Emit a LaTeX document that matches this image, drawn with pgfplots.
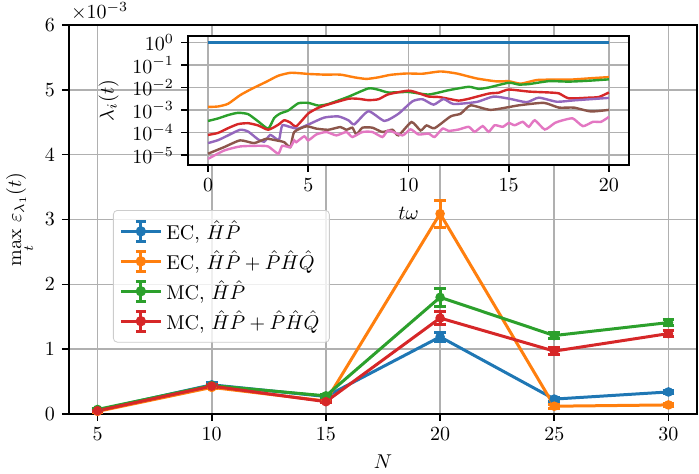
\documentclass[border=0pt]{standalone}
\usepackage{pgfplots}
\pgfplotsset{compat=1.18}
\definecolor{C0}{HTML}{1F77B4}
\definecolor{C1}{HTML}{FF7F0E}
\definecolor{C2}{HTML}{2CA02C}
\definecolor{C3}{HTML}{D62728}
\definecolor{C4}{HTML}{9467BD}
\definecolor{C5}{HTML}{8C564B}
\definecolor{C6}{HTML}{E377C2}
\definecolor{gridgray}{HTML}{B0B0B0}
\definecolor{leggray}{HTML}{CCCCCC}
\pgfplotsset{errlegend/.style={legend image code/.code={
    \draw[##1, line width=1.5pt] (0pt,0pt) -- (20pt,0pt);
    \draw[##1, line width=1.5pt] (10pt,-5pt) -- (10pt,5pt) (7.5pt,-5pt) -- (12.5pt,-5pt) (7.5pt,5pt) -- (12.5pt,5pt);
    \fill[##1] (10pt,0pt) circle (1.8pt);
  }}}
\begin{document}
\begin{tikzpicture}
\begin{axis}[
  at={(0,0)}, anchor=south west,
  width=314pt, height=194.5pt, scale only axis,
  xmin=3.75, xmax=31.25, ymin=0, ymax=6,
  xtick={5,10,...,30}, ytick={0,1,...,6},
  grid=major, major grid style={color=gridgray, line width=0.8pt},
  axis line style={line width=0.8pt},
  tick align=outside, tick pos=left, major tick length=3.5pt,
  tick style={line width=0.8pt, black},
  xlabel={$N$}, ylabel={$\max\limits_{t}\,\varepsilon_{\lambda_1}(t)$},
  ylabel style={yshift=-2pt},
  error bars/error bar style={line width=1.5pt},
  error bars/error mark=|,
  error bars/error mark options={line width=1.5pt, mark size=2.9pt},
  legend cell align=left,
  legend style={at={(0.070,0.5244)}, anchor=north west, draw=leggray,
    fill=white, fill opacity=0.8, draw opacity=1, text opacity=1,
    rounded corners=2pt, row sep=0pt, inner sep=3pt},
  errlegend,
]
\addplot[C0, line width=1.5pt, mark=*, mark size=1.6pt, error bars/.cd, y dir=both, y explicit]
  coordinates {(5,0.06)+-(0,0.01) (10,0.45)+-(0,0.03) (15,0.27)+-(0,0.02) (20,1.19)+-(0,0.07) (25,0.23)+-(0,0.03) (30,0.34)+-(0,0.03)};
\addlegendentry{EC, $\hat{H}\hat{P}$}
\addplot[C1, line width=1.5pt, mark=*, mark size=1.6pt, error bars/.cd, y dir=both, y explicit]
  coordinates {(5,0.04)+-(0,0.01) (10,0.41)+-(0,0.02) (15,0.20)+-(0,0.02) (20,3.09)+-(0,0.21) (25,0.12)+-(0,0.03) (30,0.14)+-(0,0.02)};
\addlegendentry{EC, $\hat{H}\hat{P}+\hat{P}\hat{H}\hat{Q}$}
\addplot[C2, line width=1.5pt, mark=*, mark size=1.6pt, error bars/.cd, y dir=both, y explicit]
  coordinates {(5,0.07)+-(0,0.01) (10,0.44)+-(0,0.02) (15,0.28)+-(0,0.02) (20,1.80)+-(0,0.14) (25,1.21)+-(0,0.05) (30,1.41)+-(0,0.05)};
\addlegendentry{MC, $\hat{H}\hat{P}$}
\addplot[C3, line width=1.5pt, mark=*, mark size=1.6pt, error bars/.cd, y dir=both, y explicit]
  coordinates {(5,0.05)+-(0,0.01) (10,0.43)+-(0,0.02) (15,0.19)+-(0,0.02) (20,1.48)+-(0,0.10) (25,0.97)+-(0,0.05) (30,1.24)+-(0,0.05)};
\addlegendentry{MC, $\hat{H}\hat{P}+\hat{P}\hat{H}\hat{Q}$}
\end{axis}
\node[anchor=base west, inner sep=0pt] at (0.8pt,197.5pt) {$\times10^{-3}$};
\begin{axis}[
  at={(59.5pt,124.5pt)}, anchor=south west,
  width=220.5pt, height=64.5pt, scale only axis,
  xmin=-1, xmax=21, ymin=-5.43, ymax=0.28,
  xtick={0,5,...,20}, ytick={-5,-4,...,0},
  yticklabels={$10^{-5}$,$10^{-4}$,$10^{-3}$,$10^{-2}$,$10^{-1}$,$10^{0}$},
  grid=major, major grid style={color=gridgray, line width=0.8pt},
  axis background/.style={fill=white},
  axis line style={line width=0.8pt},
  tick align=outside, tick pos=left, major tick length=3.5pt,
  tick style={line width=0.8pt, black},
  xlabel={$t\omega$}, ylabel={$\lambda_i(t)$},
  xlabel style={yshift=-1pt},
  every axis plot/.append style={line width=1.2pt, no marks, smooth, tension=0.35},
]
\addplot[C0] coordinates {(0,-0.004) (5,-0.004) (10,-0.004) (15,-0.004) (20,-0.004)};
\addplot[C1] coordinates {(0,-2.86) (0.5,-2.84) (1,-2.72) (1.6,-2.34) (2.2,-2.05) (2.9,-1.75) (3.5,-1.48) (4.1,-1.35) (4.6,-1.37) (5.0,-1.40) (5.8,-1.43) (6.6,-1.43) (7.3,-1.55) (7.9,-1.62) (8.5,-1.55) (9.1,-1.44) (9.9,-1.38) (10.7,-1.39) (11.6,-1.29) (12.4,-1.38) (13.4,-1.60) (14.4,-1.73) (15.0,-1.72) (15.6,-1.83) (16.4,-1.67) (17.4,-1.65) (18.1,-1.65) (19.1,-1.59) (20,-1.54)};
\addplot[C2] coordinates {(0,-3.48) (0.5,-3.37) (1.0,-3.22) (1.5,-3.12) (2.0,-3.18) (2.5,-3.50) (3.0,-3.82) (3.3,-3.35) (3.6,-3.15) (4.0,-3.02) (4.5,-2.70) (5.0,-2.68) (5.5,-2.80) (6.0,-2.73) (7.0,-2.41) (8.0,-2.04) (8.5,-2.10) (9.0,-2.22) (10.0,-2.20) (11.0,-2.31) (12.0,-2.12) (13.0,-1.97) (13.5,-2.06) (14.0,-2.00) (15.0,-1.79) (15.5,-1.87) (16.0,-1.85) (17.0,-1.72) (18.0,-1.74) (19.0,-1.70) (20.0,-1.64)};
\addplot[C3] coordinates {(0,-4.10) (0.5,-4.01) (1.0,-3.80) (1.5,-3.62) (2.0,-3.58) (2.5,-3.68) (3.0,-3.87) (3.5,-3.65) (3.8,-3.45) (4.1,-3.55) (4.4,-3.72) (5.0,-3.15) (5.5,-2.90) (6.0,-2.75) (7.0,-2.50) (7.5,-2.50) (8.0,-2.56) (8.5,-2.52) (9.0,-2.30) (10.0,-2.14) (10.5,-2.25) (11.0,-2.40) (11.5,-2.42) (12.0,-2.50) (12.5,-2.58) (13.0,-2.50) (14.0,-2.27) (14.5,-2.23) (15.0,-2.09) (16.0,-2.18) (17.0,-2.22) (17.5,-2.26) (18.0,-2.48) (19.0,-2.45) (19.5,-2.42) (20.0,-2.22)};
\addplot[C4] coordinates {(0,-4.46) (0.5,-4.33) (1.0,-4.12) (1.6,-3.87) (2.0,-3.95) (2.5,-4.30) (2.8,-4.40) (3.1,-4.10) (3.4,-4.27) (3.55,-4.30) (3.7,-3.68) (4.1,-3.75) (4.5,-3.82) (5.1,-3.60) (5.8,-3.33) (6.5,-3.28) (7.0,-3.45) (7.3,-3.63) (8.0,-3.05) (8.8,-3.48) (9.5,-3.16) (10.2,-2.61) (10.7,-2.52) (11.25,-2.76) (11.75,-2.51) (12.25,-2.73) (13.4,-2.64) (14.25,-2.40) (15.1,-2.51) (15.9,-2.65) (16.5,-2.45) (17.4,-2.63) (18.25,-2.57) (20.0,-2.46)};
\addplot[C5] coordinates {(0,-4.93) (0.8,-4.64) (1.6,-4.34) (2.3,-4.46) (2.9,-4.27) (3.4,-4.34) (3.8,-4.42) (4.1,-4.64) (4.3,-3.97) (4.9,-3.72) (5.4,-3.82) (6.0,-3.87) (6.6,-3.75) (6.9,-3.87) (7.2,-3.78) (7.4,-4.08) (7.7,-3.78) (8.2,-3.78) (8.7,-3.97) (9.2,-3.87) (9.5,-4.12) (10.15,-3.53) (10.6,-3.90) (10.9,-3.68) (11.3,-3.80) (12.1,-3.28) (12.6,-3.16) (13.1,-2.79) (14.1,-2.99) (15.5,-2.79) (16.75,-2.68) (17.5,-2.89) (18.25,-2.89) (19.1,-3.06) (20.0,-2.99)};
\addplot[C6] coordinates {(0,-5.16) (0.8,-4.79) (1.6,-4.61) (2.5,-4.58) (3.0,-4.61) (3.5,-4.93) (3.7,-4.58) (4.1,-4.64) (4.3,-4.34) (4.4,-4.42) (4.8,-4.16) (5.0,-4.34) (5.4,-4.08) (5.9,-3.97) (6.4,-4.12) (6.9,-3.97) (7.2,-4.19) (7.7,-3.97) (8.2,-3.97) (8.7,-4.19) (9.0,-3.90) (9.7,-4.12) (10.1,-3.85) (10.5,-4.08) (11.0,-4.04) (11.3,-4.19) (11.7,-3.82) (12.0,-3.92) (12.5,-3.86) (13.0,-3.74) (13.3,-3.96) (13.7,-3.71) (14.0,-3.96) (14.3,-3.67) (14.7,-3.74) (15.0,-3.57) (15.3,-3.67) (15.7,-3.52) (16.0,-3.74) (16.3,-3.45) (16.8,-3.86) (17.3,-3.57) (17.7,-3.45) (18.2,-3.37) (18.7,-3.71) (19.2,-3.52) (19.6,-3.52) (20.0,-3.30)};
\end{axis}
\pgfresetboundingbox
\path[use as bounding box] (-34.5pt,-30pt) rectangle (315pt,207pt);
\end{tikzpicture}
\end{document}
